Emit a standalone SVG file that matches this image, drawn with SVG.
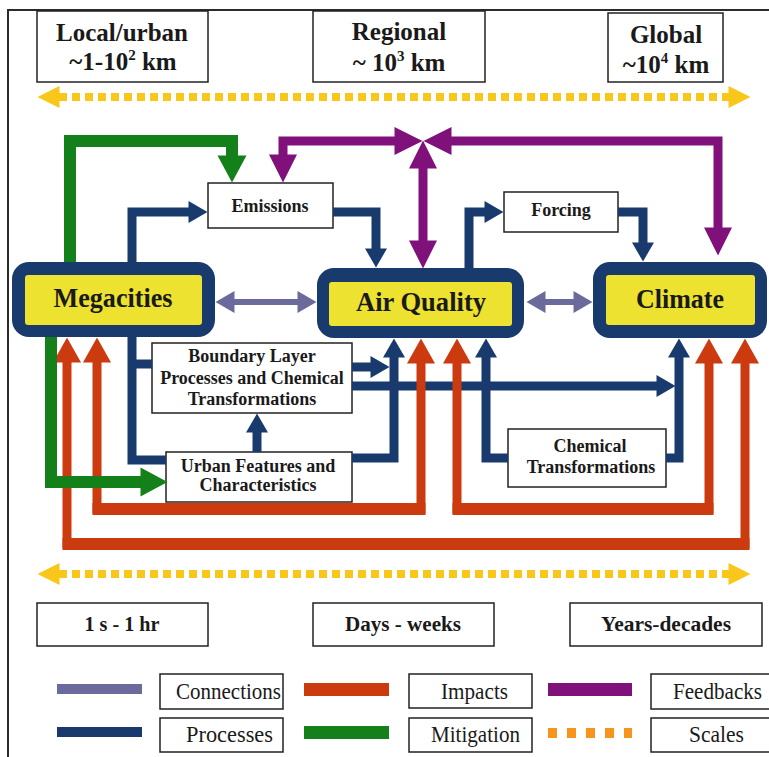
<svg xmlns="http://www.w3.org/2000/svg" width="769" height="757" viewBox="0 0 769 757">
  <style>
    .bg { fill: #ffffff; }
    .frame { fill: none; stroke: #2b2b2b; stroke-width: 2; }
    .box { fill: #ffffff; stroke: #222222; stroke-width: 1.5; }
    .outer { fill: #183a6d; }
    .inner { fill: #ece22f; }
    .t { font-family: "Liberation Serif", "Times New Roman", serif; fill: #1a1a1a; }
    .b { font-weight: bold; }
    .mid { text-anchor: middle; }
    .navy { fill: none; stroke: #183a6d; stroke-width: 9; stroke-linejoin: miter; }
    .red { fill: none; stroke: #cc3a10; stroke-width: 9; stroke-linejoin: miter; }
    .redh { fill: none; stroke: #cc3a10; stroke-width: 12; }
    .green { fill: none; stroke: #13801a; stroke-width: 12; stroke-linejoin: miter; }
    .purple { fill: none; stroke: #80117b; stroke-width: 9; stroke-linejoin: miter; }
    .lav { fill: none; stroke: #6b6a9c; stroke-width: 6; }
    .scale { fill: none; stroke: #f8c719; stroke-width: 8; stroke-dasharray: 8 5; }
  </style>
  <defs>
    <marker id="hNavy" markerUnits="userSpaceOnUse" markerWidth="20" markerHeight="22" refX="0.5" refY="11" orient="auto-start-reverse" overflow="visible">
      <path d="M0,0 L19,11 L0,22 Z" fill="#183a6d"/>
    </marker>
    <marker id="hRed" markerUnits="userSpaceOnUse" markerWidth="26" markerHeight="28" refX="0.5" refY="14" orient="auto-start-reverse" overflow="visible">
      <path d="M0,0 L25,14 L0,28 Z" fill="#cc3a10"/>
    </marker>
    <marker id="hGreen" markerUnits="userSpaceOnUse" markerWidth="27" markerHeight="29" refX="0.5" refY="14.5" orient="auto-start-reverse" overflow="visible">
      <path d="M0,0 L27,14.5 L0,29 Z" fill="#13801a"/>
    </marker>
    <marker id="hPurple" markerUnits="userSpaceOnUse" markerWidth="28" markerHeight="28" refX="0.5" refY="14" orient="auto-start-reverse" overflow="visible">
      <path d="M0,0 L28,14 L0,28 Z" fill="#80117b"/>
    </marker>
    <marker id="hLav" markerUnits="userSpaceOnUse" markerWidth="19" markerHeight="22" refX="0.5" refY="11" orient="auto-start-reverse" overflow="visible">
      <path d="M0,0 L19,11 L0,22 Z" fill="#6b6a9c"/>
    </marker>
    <marker id="hScale" markerUnits="userSpaceOnUse" markerWidth="22" markerHeight="22" refX="0.5" refY="11" orient="auto-start-reverse" overflow="visible">
      <path d="M0,0 L22,11 L0,22 Z" fill="#f8c719"/>
    </marker>
  </defs>

  <rect class="bg" x="0" y="0" width="769" height="757"/>
  <path class="frame" d="M8,757 V10 H769"/>

  <!-- spatial scale boxes -->
  <g id="scale-local">
    <rect class="box" x="37" y="11" width="171" height="71"/>
    <text class="t b mid" x="122" y="41" font-size="25">Local/urban</text>
    <text class="t b mid" x="123" y="70" font-size="25">~1-10<tspan dy="-10" font-size="15">2</tspan><tspan dy="10"> km</tspan></text>
  </g>
  <g id="scale-regional">
    <rect class="box" x="313" y="11" width="172" height="71"/>
    <text class="t b mid" x="399" y="40" font-size="25">Regional</text>
    <text class="t b mid" x="399" y="71" font-size="25">~ 10<tspan dy="-10" font-size="15">3</tspan><tspan dy="10"> km</tspan></text>
  </g>
  <g id="scale-global">
    <rect class="box" x="608" y="13" width="115" height="69"/>
    <text class="t b mid" x="666" y="43" font-size="25">Global</text>
    <text class="t b mid" x="666" y="73" font-size="25">~10<tspan dy="-10" font-size="15">4</tspan><tspan dy="10"> km</tspan></text>
  </g>

  <!-- time scale boxes -->
  <g id="time-short">
    <rect class="box" x="37" y="603" width="171" height="43"/>
    <text class="t b mid" x="122" y="631" font-size="22" textLength="75" lengthAdjust="spacingAndGlyphs">1 s - 1 hr</text>
  </g>
  <g id="time-mid">
    <rect class="box" x="313" y="603" width="181" height="43"/>
    <text class="t b mid" x="403" y="631" font-size="22" textLength="116" lengthAdjust="spacingAndGlyphs">Days - weeks</text>
  </g>
  <g id="time-long">
    <rect class="box" x="570" y="603" width="192" height="43"/>
    <text class="t b mid" x="666" y="631" font-size="22" textLength="130" lengthAdjust="spacingAndGlyphs">Years-decades</text>
  </g>

  <!-- process boxes -->
  <g id="emissions">
    <rect class="box" x="208" y="183" width="125" height="45"/>
    <text class="t b mid" x="270" y="212" font-size="18">Emissions</text>
  </g>
  <g id="forcing">
    <rect class="box" x="504" y="192" width="114" height="40"/>
    <text class="t b mid" x="561" y="216" font-size="18">Forcing</text>
  </g>
  <g id="boundary-layer">
    <rect class="box" x="152" y="343" width="200" height="70"/>
    <text class="t b mid" x="252" y="362" font-size="18">Boundary Layer</text>
    <text class="t b mid" x="252" y="384" font-size="18">Processes and Chemical</text>
    <text class="t b mid" x="252" y="405" font-size="18">Transformations</text>
  </g>
  <g id="urban-features">
    <rect class="box" x="166" y="452" width="186" height="50"/>
    <text class="t b mid" x="258" y="472" font-size="18">Urban Features and</text>
    <text class="t b mid" x="258" y="491" font-size="18">Characteristics</text>
  </g>
  <g id="chemical">
    <rect class="box" x="508" y="429" width="158" height="58"/>
    <text class="t b mid" x="590" y="452" font-size="18">Chemical</text>
    <text class="t b mid" x="591" y="473" font-size="18">Transformations</text>
  </g>

  <!-- main nodes -->
  <g id="megacities">
    <rect class="outer" x="12" y="262" width="203" height="75" rx="17"/>
    <rect class="inner" x="25" y="275" width="177" height="50" rx="3"/>
    <text class="t b mid" x="113" y="307" font-size="27" textLength="119" lengthAdjust="spacingAndGlyphs">Megacities</text>
  </g>
  <g id="air-quality">
    <rect class="outer" x="317" y="268" width="207" height="70" rx="17"/>
    <rect class="inner" x="329" y="282" width="183" height="44" rx="3"/>
    <text class="t b mid" x="421" y="311" font-size="27" textLength="130" lengthAdjust="spacingAndGlyphs">Air Quality</text>
  </g>
  <g id="climate">
    <rect class="outer" x="593" y="262" width="174" height="76" rx="17"/>
    <rect class="inner" x="606" y="275" width="149" height="50" rx="3"/>
    <text class="t b mid" x="680" y="308" font-size="27" textLength="88" lengthAdjust="spacingAndGlyphs">Climate</text>
  </g>

  <g id="connectors">
    <!-- scale bars -->
    <path class="scale" d="M59,97 H729" marker-start="url(#hScale)" marker-end="url(#hScale)"/>
    <path class="scale" d="M59,574 H729" marker-start="url(#hScale)" marker-end="url(#hScale)"/>

    <!-- connections -->
    <path class="lav" d="M234,302 H298" marker-start="url(#hLav)" marker-end="url(#hLav)"/>
    <path class="lav" d="M545,302 H574" marker-start="url(#hLav)" marker-end="url(#hLav)"/>

    <!-- processes -->
    <path class="navy" d="M132,262 V212 H189" marker-end="url(#hNavy)"/>
    <path class="navy" d="M333,212 H376 V249" marker-end="url(#hNavy)"/>
    <path class="navy" d="M469,268 V212 H485" marker-end="url(#hNavy)"/>
    <path class="navy" d="M618,212 H643 V243" marker-end="url(#hNavy)"/>
    <path class="navy" d="M132,337 V460 H166"/>
    <path class="navy" d="M132,364 H152"/>
    <path class="navy" d="M352,367 H371" marker-end="url(#hNavy)"/>
    <path class="navy" d="M352,386 H657" marker-end="url(#hNavy)"/>
    <path class="navy" d="M352,458 H394 V357" marker-end="url(#hNavy)"/>
    <path class="navy" d="M508,458 H486 V357" marker-end="url(#hNavy)"/>
    <path class="navy" d="M666,458 H679 V357" marker-end="url(#hNavy)"/>
    <path class="navy" d="M257,452 V432" marker-end="url(#hNavy)"/>

    <!-- feedbacks -->
    <path class="purple" d="M718,228 V141 H451" marker-start="url(#hPurple)" marker-end="url(#hPurple)"/>
    <path class="purple" d="M283,155 V141 H395" marker-start="url(#hPurple)" marker-end="url(#hPurple)"/>
    <path class="purple" d="M423,241 V168" marker-start="url(#hPurple)" marker-end="url(#hPurple)"/>

    <!-- impacts -->
    <path class="red" d="M67,362 V544 H745 V363" marker-start="url(#hRed)" marker-end="url(#hRed)"/>
    <path class="redh" d="M62.5,544 H749.5"/>
    <path class="red" d="M97,362 V509 H421 V363" marker-start="url(#hRed)" marker-end="url(#hRed)"/>
    <path class="redh" d="M92.5,509 H425.5"/>
    <path class="red" d="M457,363 V509 H709 V363" marker-start="url(#hRed)" marker-end="url(#hRed)"/>
    <path class="redh" d="M452.5,509 H713.5"/>

    <!-- mitigation -->
    <path class="green" d="M70,262 V141 H232 V156" marker-end="url(#hGreen)"/>
    <path class="green" d="M51,337 V482 H141" marker-end="url(#hGreen)"/>
  </g>

  <!-- legend -->
  <g id="legend">
    <rect x="57" y="684" width="85" height="10" fill="#6b6a9c"/>
    <rect class="box" x="160" y="674" width="123" height="35"/>
    <text class="t" x="176" y="699" font-size="23" textLength="105" lengthAdjust="spacingAndGlyphs">Connections</text>

    <rect x="304" y="683" width="85" height="13" fill="#cc3a10"/>
    <rect class="box" x="409" y="674" width="123" height="34"/>
    <text class="t" x="441" y="699" font-size="23" textLength="67" lengthAdjust="spacingAndGlyphs">Impacts</text>

    <rect x="548" y="683" width="84" height="13" fill="#80117b"/>
    <rect class="box" x="651" y="674" width="125" height="35"/>
    <text class="t" x="673" y="699" font-size="23" textLength="89" lengthAdjust="spacingAndGlyphs">Feedbacks</text>

    <rect x="57" y="727" width="85" height="10" fill="#183a6d"/>
    <rect class="box" x="160" y="718" width="123" height="34"/>
    <text class="t" x="186" y="742" font-size="23" textLength="87" lengthAdjust="spacingAndGlyphs">Processes</text>

    <rect x="304" y="726" width="85" height="13" fill="#13801a"/>
    <rect class="box" x="409" y="718" width="123" height="34"/>
    <text class="t" x="431" y="742" font-size="23" textLength="89" lengthAdjust="spacingAndGlyphs">Mitigation</text>

    <path d="M548,733 H632" fill="none" stroke="#f7941d" stroke-width="10" stroke-dasharray="9 10"/>
    <rect class="box" x="651" y="718" width="125" height="34"/>
    <text class="t" x="689" y="742" font-size="23" textLength="55" lengthAdjust="spacingAndGlyphs">Scales</text>
  </g>
</svg>
